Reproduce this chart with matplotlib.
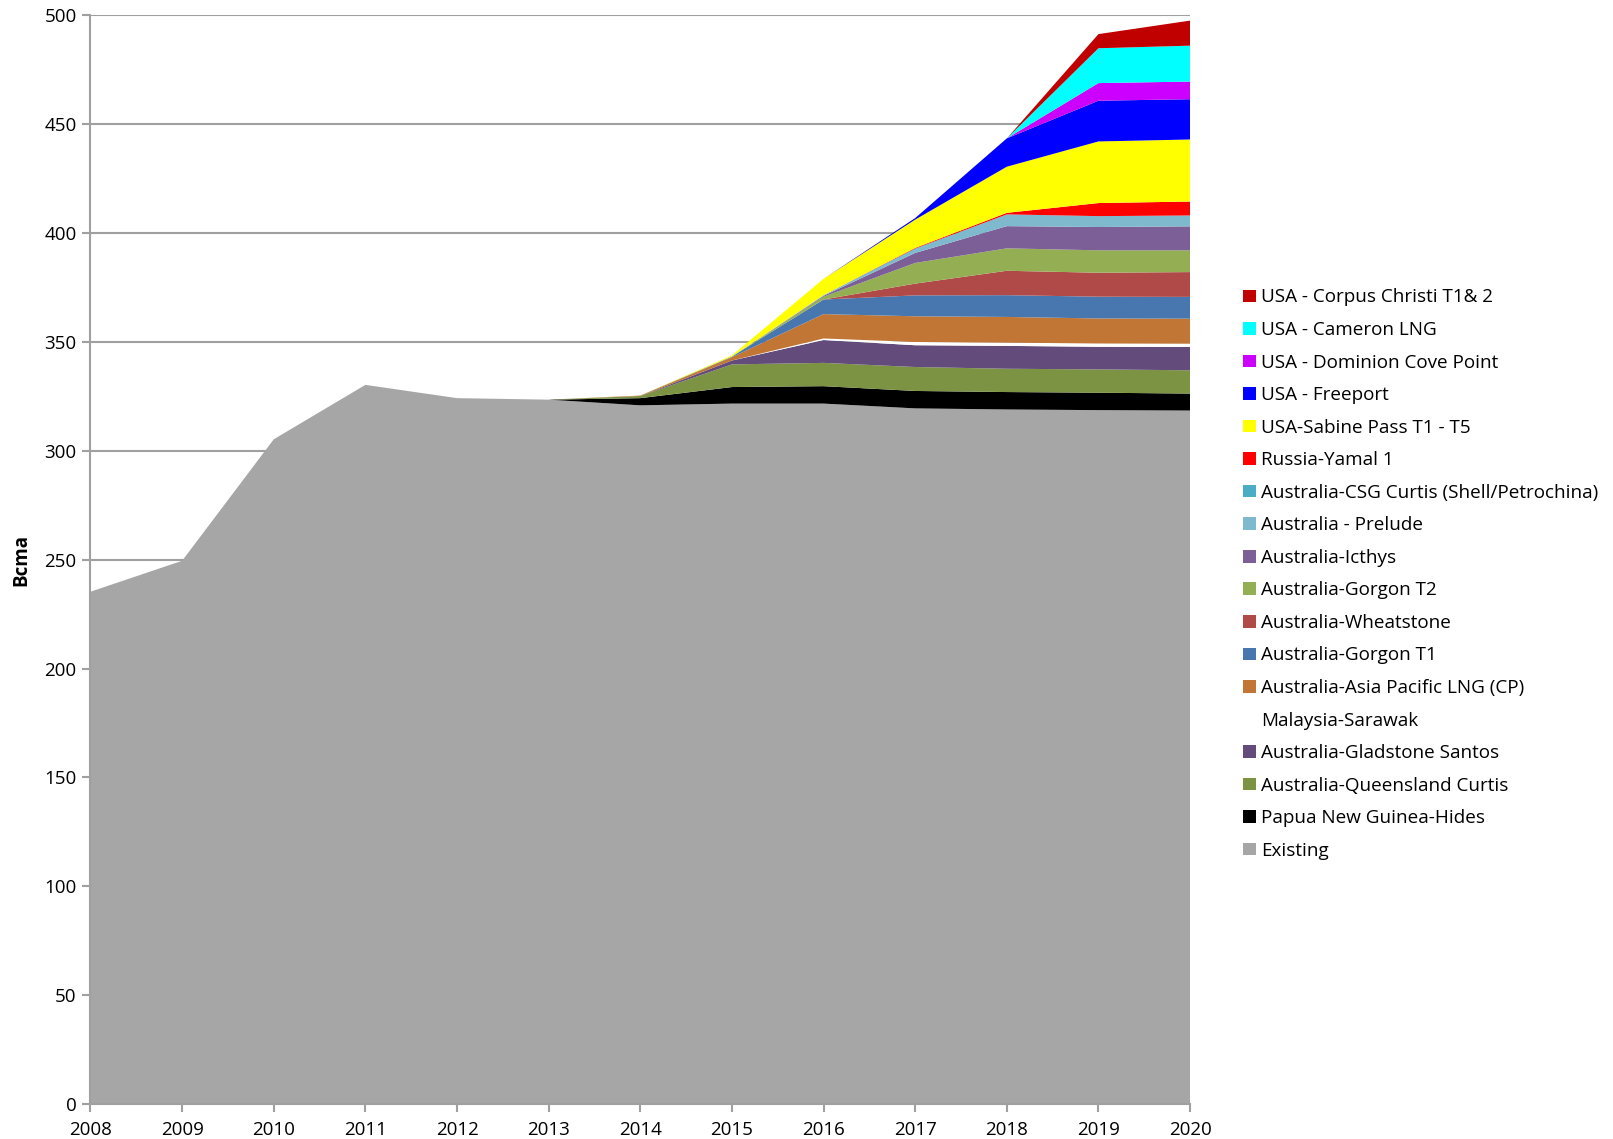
import matplotlib
matplotlib.use("Agg")
import matplotlib.pyplot as plt
from matplotlib.patches import Patch

years = list(range(2008, 2021))

existing  = [235.3, 249.5, 305.3, 330.3, 324.2, 323.5, 320.9, 321.7, 321.7, 319.5, 319.0, 318.7, 318.5]
hides     = [0, 0, 0, 0, 0, 0, 3.3, 7.6, 8.0, 8.0, 8.0, 8.0, 7.8]
qc        = [0, 0, 0, 0, 0, 0, 1.0, 10.4, 10.7, 11.0, 10.7, 10.7, 10.7]
gladstone = [0, 0, 0, 0, 0, 0, 0, 1.8, 10.5, 10.0, 10.5, 10.4, 10.7]
sarawak   = [0, 0, 0, 0, 0, 0, 0, 0, 0.7, 1.5, 1.5, 1.5, 1.5]
aplng     = [0, 0, 0, 0, 0, 0, 0.2, 1.5, 11.2, 11.8, 11.8, 11.5, 11.5]
gorgon1   = [0, 0, 0, 0, 0, 0, 0, 0.3, 6.7, 9.6, 10.0, 10.0, 10.0]
wheat     = [0, 0, 0, 0, 0, 0, 0, 0, 0, 5.4, 11.2, 11.0, 11.4]
gorgon2   = [0, 0, 0, 0, 0, 0, 0, 0, 1.3, 9.5, 10.3, 10.3, 10.0]
icthys    = [0, 0, 0, 0, 0, 0, 0, 0, 0.4, 4.6, 10.2, 10.7, 11.0]
prelude   = [0, 0, 0, 0, 0, 0, 0, 0, 0.3, 2.0, 5.4, 5.0, 5.0]
csg       = [0, 0, 0, 0, 0, 0, 0, 0, 0, 0, 0, 0, 0]
yamal     = [0, 0, 0, 0, 0, 0, 0, 0, 0, 0.3, 0.7, 6.0, 6.4]
sabine    = [0, 0, 0, 0, 0, 0, 0, 0.5, 7.5, 13.0, 21.2, 28.3, 28.5]
freeport  = [0, 0, 0, 0, 0, 0, 0, 0, 0, 0.7, 13.0, 18.7, 18.5]
dominion  = [0, 0, 0, 0, 0, 0, 0, 0, 0, 0, 0, 8.1, 8.1]
cameron   = [0, 0, 0, 0, 0, 0, 0, 0, 0, 0, 0, 16.0, 16.5]
corpus    = [0, 0, 0, 0, 0, 0, 0, 0, 0, 0, 0, 6.5, 11.5]

labels = ["Existing", "Papua New Guinea-Hides", "Australia-Queensland Curtis",
          "Australia-Gladstone Santos", "Malaysia-Sarawak", "Australia-Asia Pacific LNG (CP)",
          "Australia-Gorgon T1", "Australia-Wheatstone", "Australia-Gorgon T2",
          "Australia-Icthys", "Australia - Prelude", "Australia-CSG Curtis (Shell/Petrochina)",
          "Russia-Yamal 1", "USA-Sabine Pass T1 - T5", "USA - Freeport",
          "USA - Dominion Cove Point", "USA - Cameron LNG", "USA - Corpus Christi T1& 2"]
series = [existing, hides, qc, gladstone, sarawak, aplng, gorgon1, wheat, gorgon2,
          icthys, prelude, csg, yamal, sabine, freeport, dominion, cameron, corpus]
colors = ["#A6A6A6", "#000000", "#7B9343", "#634C7C", "#FFFFFF", "#C27636",
          "#4877AF", "#B04A48", "#94AE53", "#7B5F96", "#7EB9CE", "#4BACC6",
          "#FF0000", "#FFFF00", "#0000FF", "#CC00FF", "#00FFFF", "#C00000"]

plt.rcParams['font.family'] = ['Open Sans', 'DejaVu Sans']

fig = plt.figure(figsize=(16.13, 11.39), dpi=100)
ax = fig.add_axes([0.0561, 0.0307, 0.6817, 0.9558])

ax.stackplot(years, *series, colors=colors, linewidth=0, edgecolor='none')

ax.set_xlim(2008, 2020)
ax.set_ylim(0, 500)
ax.set_xticks(years)
ax.set_yticks(range(0, 501, 50))
ax.set_axisbelow(True)
ax.grid(axis='y', color='#A0A0A0', linewidth=1.5)
for s in ['top', 'right']:
    ax.spines[s].set_visible(False)
for s in ['left', 'bottom']:
    ax.spines[s].set_color('#A0A0A0')
    ax.spines[s].set_linewidth(1.5)
ax.tick_params(axis='both', colors='#A0A0A0', length=6, width=1.5, labelcolor='black', labelsize=13.5)
ax.tick_params(axis='x', pad=6)
ax.tick_params(axis='y', pad=4)
ax.set_ylabel("Bcma", fontsize=13.5, fontweight='bold', labelpad=9)

handles = [Patch(facecolor=c, edgecolor='none') for c in colors]
fig.legend(handles[::-1], labels[::-1], loc='upper left', bbox_to_anchor=(0.765, 0.755),
           frameon=False, fontsize=13.6, handlelength=0.65, handleheight=0.65,
           handletextpad=0.3, labelspacing=0.77, borderpad=0)

fig.savefig("out.png", dpi=100)
